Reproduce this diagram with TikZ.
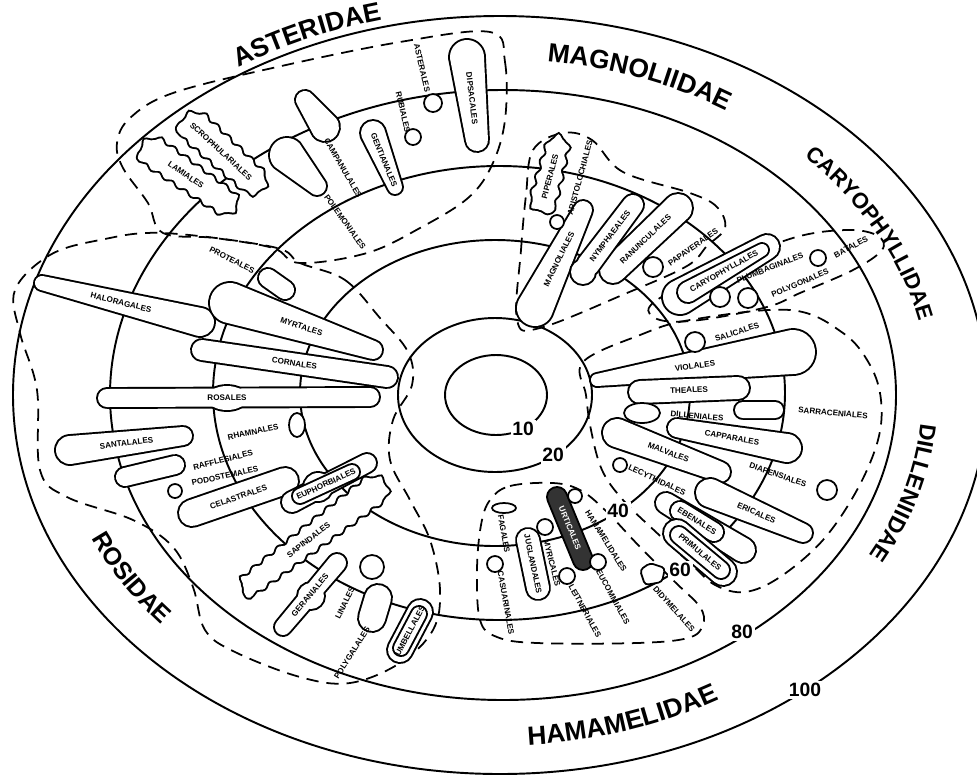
\documentclass[tikz,border=0pt]{standalone}
\usepackage{fontspec}
\setsansfont{Liberation Sans}
\usetikzlibrary{decorations.text,decorations.pathmorphing}

\tikzset{
  ring/.style={line width=1.1pt},
  zone/.style={line width=1pt, dash pattern=on 7pt off 4.5pt},
  edge/.style={draw, line width=2.2pt},
  face/.style={fill=white},
  wavy/.style={decorate, decoration={snake, amplitude=1pt, segment length=9pt}},
  pit/.style={draw, line width=1pt, fill=white},
  order/.style={font=\sffamily\bfseries\fontsize{4.6}{4.6}\selectfont, inner sep=0pt},
  ringnum/.style={font=\sffamily\bfseries\fontsize{11}{11}\selectfont, fill=white, inner sep=1pt},
}

% tapered balloon from (#2,#3) radius #6 to (#4,#5) radius #7
\newcommand{\blobpath}[7]{%
  \pgfmathsetmacro\blobang{atan2((#3)-(#5),(#4)-(#2))}%
  \pgfmathsetmacro\bloblen{veclen((#4)-(#2),(#5)-(#3))}%
  \path[#1, shift={(#2,#3)}, rotate=\blobang]
    (0,#6) -- (\bloblen,#7) arc[start angle=90, end angle=-90, radius=#7]
    -- (0,-#6) arc[start angle=270, end angle=90, radius=#6];}
\newcommand{\blob}[7][]{%
  \blobpath{edge,#1}{#2}{#3}{#4}{#5}{#6}{#7}%
  \blobpath{face,#1}{#2}{#3}{#4}{#5}{#6}{#7}}
% subclass name along an ellipse round the centre
\newcommand{\subclasslabel}[6]{%
  \path[decorate, decoration={text along path, text align=center,
      text={|\sffamily\bfseries\fontsize{#5}{#5}\selectfont|#6}}]
    ({497+#1*cos(#3)},{394+#2*sin(#3)})
    arc[start angle=#3, end angle=#4, x radius=#1, y radius=#2];}

\begin{document}
\begin{tikzpicture}[x=0.02cm, y=-0.02cm]
\useasboundingbox (0,0) rectangle (977,775);

% rings
\draw[ring] (500,395) ellipse[x radius=487, y radius=379];
\draw[ring] (503,395) ellipse[x radius=393, y radius=305];
\draw[ring] (499,393) ellipse[x radius=286, y radius=227];
\draw[ring] (495,393) ellipse[x radius=195, y radius=153];
\draw[ring] (495,395) ellipse[x radius=97, y radius=77];
\draw[ring] (496,395) ellipse[x radius=51, y radius=40];

% subclass zones
\draw[zone] plot[smooth cycle, tension=0.6] coordinates {(490,32) (505,62) (505,120) (492,165) (468,198) (420,228) (367,253) (300,263) (273,248) (215,238) (163,233) (148,203) (123,168) (117,143) (130,118) (173,93) (277,67) (400,42)};
\draw[zone] plot[smooth cycle, tension=0.6] coordinates {(300,263) (345,280) (380,318) (408,352) (412,385) (393,420) (390,460) (410,500) (430,540) (440,590) (433,630) (400,663) (350,683) (300,677) (235,652) (205,630) (193,587) (173,547) (133,520) (67,497) (40,470) (37,390) (20,333) (15,290) (50,255) (100,240) (163,233) (273,247)};
\draw[zone] plot[smooth cycle, tension=0.6] coordinates {(517,320) (521,250) (526,195) (533,150) (563,133) (592,140) (623,172) (690,193) (717,207) (725,228) (707,246) (687,266) (627,293) (540,328)};
\draw[zone] plot[smooth cycle, tension=0.6] coordinates {(650,306) (690,281) (740,258) (800,236) (850,230) (878,236) (882,250) (853,270) (800,293) (767,307) (700,320) (660,320)};
\draw[zone] plot[smooth cycle, tension=0.6] coordinates {(583,362) (640,335) (690,320) (790,310) (843,333) (870,365) (881,400) (878,440) (857,490) (823,540) (780,577) (745,592) (715,585) (690,563) (657,533) (623,500) (602,470) (591,430) (586,395)};
\draw[zone] plot[smooth cycle, tension=0.6] coordinates {(490,500) (510,486) (553,483) (580,490) (605,510) (640,547) (675,582) (700,607) (703,625) (688,638) (637,643) (537,643) (497,637) (480,620) (477,570) (481,525)};

% balloons with the name inside
\foreach \xa/\ya/\xb/\yb/\ra/\rb/\nm/\txt in {
  373/133/395/187/12/7/gen/GENTIANALES, 467/57/477/140/17/11/dip/DIPSACALES,
  535/308/583/210/18/9/mag/MAGNOLIALES, 613/270/678/208/13/14/ran/RANUNCULALES,
  597/380/793/352/6/22/vio/VIOLALES, 640/392/738/388/11/11/the/THEALES,
  617/433/720/472/14/10/mal/MALVALES, 677/428/787/448/9/14/cap/CAPPARALES,
  710/493/803/533/14/9/eri/ERICALES, 70/450/183/436/14/9/san/SANTALALES,
  528/540/538/588/11/11/jug/JUGLANDALES,
  42/283/200/322/7/14/hal/HALORAGALES, 230/303/373/350/20/9/myr/MYRTALES,
  202/350/387/377/10/10/cor/CORNALES, 192/513/285/481/13/13/cel/CELASTRALES}{
  \blob{\xa}{\ya}{\xb}{\yb}{\ra}{\rb}
  \node[order, rotate=\blobang] (\nm) at ({(\xa+\xb)/2},{(\ya+\yb)/2}) {\txt};
}
\foreach \xa/\ya/\xb/\yb/\ra/\rb/\nm/\txt in {
  150/150/222/200/14/12/lam/LAMIALES, 192/125/250/178/15/13/scr/SCROPHULARIALES,
  543/203/557/150/12/10/pip/PIPERALES, 247/587/370/493/10/14/sap/SAPINDALES}{
  \blob[wavy]{\xa}{\ya}{\xb}{\yb}{\ra}{\rb}
  \node[order, rotate=\blobang] (\nm) at ({(\xa+\xb)/2},{(\ya+\yb)/2}) {\txt};
}

% balloons named beside them
\foreach \xa/\ya/\xb/\yb/\ra/\rb in {305/100/325/127/9/14, 287/155/317/186/17/9,
  268/278/285/290/9/9, 125/477/175/465/9/9, 743/410/775/410/8/8, 378/598/372/618/13/13}{
  \blob{\xa}{\ya}{\xb}{\yb}{\ra}{\rb}
}

% nested and joined balloons
\blob{680}{297}{767}{247}{17}{12}
\blob{688}{292}{762}{250}{10}{6}
\node[order, rotate=\blobang] (car) at (724,271) {CARYOPHYLLALES};
\blob{666}{503}{743}{550}{10}{12}
\blob{680}{511}{714}{532}{9}{9}
\node[order, rotate=\blobang] (ebe) at (697,521) {EBENALES};
\blob{677}{533}{723}{572}{13}{13}
\blob{679}{535}{721}{570}{8}{8}
\node[order, rotate=\blobang] (pri) at (700,552) {PRIMULALES};
\blob{400}{650}{420}{612}{12}{12}
\blob{401}{648}{419}{614}{7}{7}
\node[order, rotate=\blobang] (umb) at (410,631) {UMBELLALES};
\blobpath{edge}{292}{502}{367}{463}{10}{9}
\path[edge] (318,487) circle[radius=14];
\blobpath{face}{292}{502}{367}{463}{10}{9}
\path[face] (318,487) circle[radius=14];
\blob{300}{496}{352}{472}{7}{7}
\node[order, rotate=\blobang] (eup) at (326,484) {EUPHORBIALES};
\blobpath{edge}{107}{398}{370}{397}{9}{9}
\path[edge] (227,398) ellipse[x radius=20, y radius=12];
\blobpath{face}{107}{398}{370}{397}{9}{9}
\path[face] (227,398) ellipse[x radius=20, y radius=12];
\node[order] (rosa) at (227,398) {ROSALES};
\blobpath{edge}{283}{627}{337}{563}{8}{9}
\path[edge] (311,596) circle[radius=13];
\blobpath{face}{283}{627}{337}{563}{8}{9}
\path[face] (311,596) circle[radius=13];
\node[order, rotate=50] (ger) at (310,595) {GERANIALES};
\blobpath{edge}{588}{265}{633}{205}{11}{10}
\path[edge] (583,272) circle[radius=12];
\blobpath{face}{588}{265}{633}{205}{11}{10}
\path[face] (583,272) circle[radius=12];
\node[order, rotate=53] (nym) at (610,236) {NYMPHAEALES};
\blobpath{edge}{557}{497}{583}{560}{9}{9}
\blobpath{fill=black!80}{557}{497}{583}{560}{9}{9}
\node[order, text=white, rotate=\blobang] (urt) at (570,528) {URTICALES};

% small pits with their names
\foreach \cx/\cy/\r/\lx/\ly/\rot/\nm/\txt in {
  413/137/8/403/112/-77/rub/RUBIALES, 433/103/9/422/68/-77/ast/ASTERALES,
  557/222/7/580/178/75/ari/ARISTOLOCHIALES, 653/267/10/693/247/35/pap/PAPAVERALES,
  720/297/10/770/268/21/plu/PLUMBAGINALES, 748/298/10/800/283/23/pol/POLYGONALES,
  818/258/8/851/247/28/bat/BATALES, 695/342/10/737/332/18/sal/SALICALES,
  620/465/7/657/480/-25/lec/LECYTHIDALES, 827/490/10/778/475/-19/dia/DIAPENSIALES,
  495/564/8/506/603/-80/cas/CASUARINALES, 545/527/8/552/563/-76/myc/MYRICALES,
  575/496/7/606/541/-58/ham/HAMAMELIDALES, 567/576/8/585/611/-61/lei/LEITNERIALES,
  598/562/8/613/597/-61/euc/EUCOMMIALES, 175/491/7/225/476/12/pod/PODOSTEMALES,
  372/567/12/345/603/64/lin/LINALES}{
  \draw[pit] (\cx,\cy) circle[radius=\r];
  \node[order, rotate=\rot] (\nm) at (\lx,\ly) {\txt};
}
\draw[pit] (642,413) ellipse[x radius=18, y radius=10];
\draw[pit] (297,425) ellipse[x radius=8, y radius=12];
\draw[pit] (504,508) ellipse[x radius=12, y radius=5];
\draw[pit, rounded corners=2pt] (640,570) -- (650,563) -- (665,568) -- (662,582) -- (645,585) -- cycle;
\node[order, rotate=-27.5] (pro) at (232,260) {PROTEALES};
\node[order, rotate=14] (raf) at (223,460) {RAFFLESIALES};
\node[order, rotate=12] (rha) at (253,432) {RHAMNALES};
\node[order, rotate=-60] (cam) at (343,168) {CAMPANULALES};
\node[order, rotate=-54] (ple) at (345,222) {POLEMONIALES};
\node[order, rotate=58] (pga) at (352,653) {POLYGALALES};
\node[order, rotate=-5] (dil) at (697,416) {DILLENIALES};
\node[order, rotate=-5] (sar) at (833,413) {SARRACENIALES};
\node[order, rotate=-80] (fga) at (504,534) {FAGALES};
\node[order, rotate=-48] (did) at (674,609) {DIDYMELALES};

% subclass names
\subclasslabel{487}{385}{-138}{-89}{15}{ASTERIDAE}
\subclasslabel{430}{335}{-95}{-45}{15}{MAGNOLIIDAE}
\subclasslabel{432}{337}{-52}{-4}{12.5}{CARYOPHYLLIDAE}
\subclasslabel{425}{335}{-5}{38}{13}{DILLENIIDAE}
\subclasslabel{445}{352}{100}{45}{15}{HAMAMELIDAE}
\subclasslabel{445}{352}{168}{128}{14}{ROSIDAE}

% ring values
\node[ringnum] (r10) at (523,429) {10};
\node[ringnum] (r20) at (553,455) {20};
\node[ringnum] (r40) at (618,511) {40};
\node[ringnum] (r60) at (680,570) {60};
\node[ringnum] (r80) at (742,632) {80};
\node[ringnum] (r100) at (805,690) {100};
\end{tikzpicture}
\end{document}
